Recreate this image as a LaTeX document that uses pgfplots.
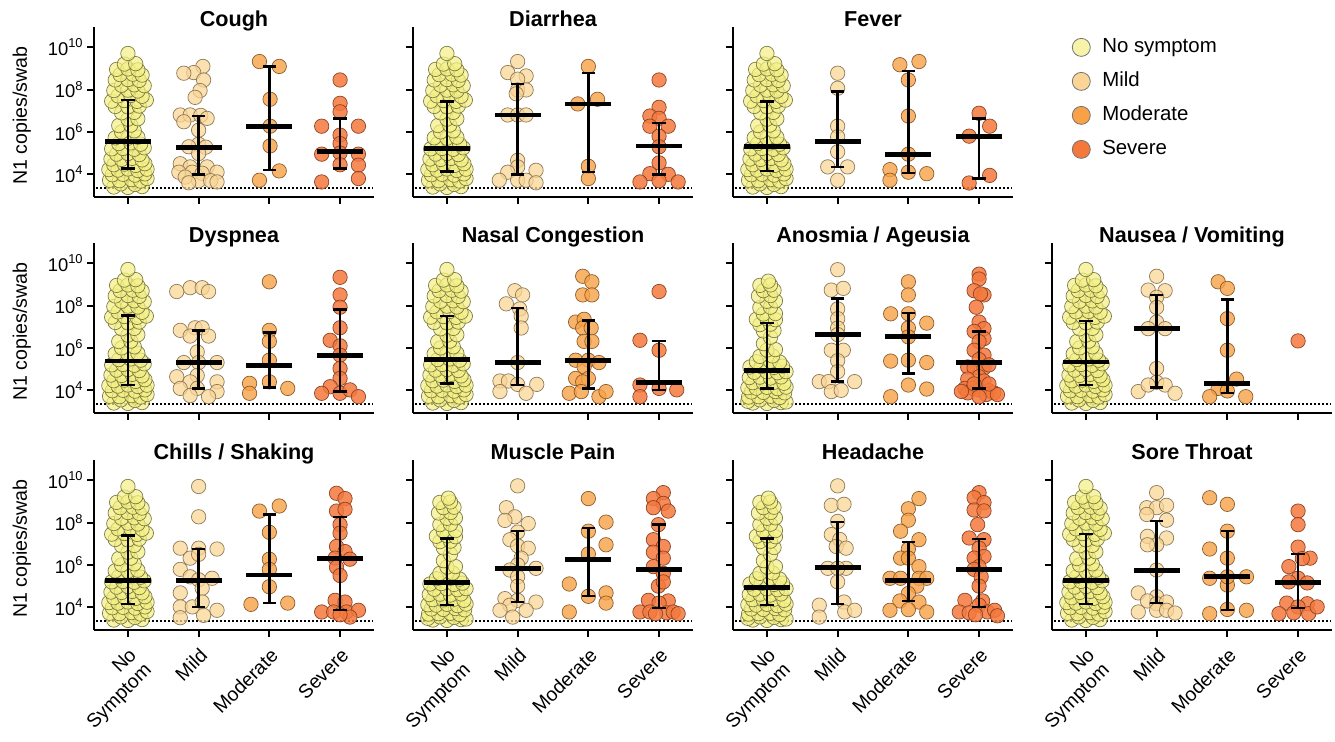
\documentclass[border=0pt]{standalone}
\usepackage{fontspec}
\setmainfont{Liberation Sans}
\usepackage{pgfplots}
\usepackage{pgfplotstable}
\pgfplotsset{compat=1.18}

\definecolor{cNo}{HTML}{F4F084}
\definecolor{cMi}{HTML}{FAD595}
\definecolor{cMo}{HTML}{F8A146}
\definecolor{cSe}{HTML}{F4783C}
\definecolor{eNo}{HTML}{7E7C44}
\definecolor{eMi}{HTML}{8E7A58}
\definecolor{eMo}{HTML}{8C5C2C}
\definecolor{eSe}{HTML}{8C4424}

\newcommand\titlefont{\fontsize{10.8}{12}\selectfont\bfseries}

% No symptom groups (log10 copies/swab), offset from category centre
\pgfplotstableread[row sep=\\]{o l\\
-0.20 3.40\\ 0.00 3.38\\ 0.20 3.42\\ -0.10 3.55\\ 0.10 3.52\\
-0.26 3.72\\ -0.12 3.70\\ 0.05 3.75\\ 0.18 3.68\\ 0.27 3.80\\
-0.22 3.98\\ -0.07 4.00\\ 0.10 3.96\\ 0.24 4.02\\
-0.27 4.22\\ -0.14 4.20\\ 0.00 4.25\\ 0.14 4.18\\ 0.27 4.24\\
-0.20 4.45\\ -0.05 4.48\\ 0.11 4.42\\ 0.24 4.50\\
-0.24 4.72\\ -0.09 4.70\\ 0.06 4.75\\ 0.20 4.68\\
-0.16 4.95\\ 0.00 4.98\\ 0.16 4.93\\
-0.23 5.20\\ -0.07 5.22\\ 0.09 5.18\\ 0.23 5.25\\
-0.13 5.45\\ 0.04 5.48\\ 0.18 5.42\\
-0.18 5.72\\ 0.00 5.70\\ 0.14 5.75\\
-0.09 6.00\\ 0.09 6.05\\
-0.13 6.30\\ 0.04 6.32\\
0.00 6.60\\ 0.14 6.62\\
-0.09 6.90\\ 0.09 6.92\\
-0.18 7.20\\ 0.00 7.18\\ 0.16 7.22\\
-0.23 7.45\\ -0.05 7.48\\ 0.13 7.44\\ 0.26 7.50\\
-0.14 7.70\\ 0.04 7.72\\ 0.20 7.68\\
-0.20 7.95\\ 0.00 7.97\\ 0.14 7.93\\
-0.09 8.20\\ 0.09 8.22\\ 0.23 8.18\\
-0.18 8.45\\ 0.00 8.47\\ 0.16 8.43\\
-0.11 8.70\\ 0.07 8.72\\ 0.20 8.68\\
-0.16 8.95\\ 0.00 8.97\\ 0.14 8.93\\
-0.05 9.20\\ 0.11 9.22\\
0.00 9.70\\
}\nsA

\pgfplotstableread[row sep=\\]{o l\\
-0.20 3.40\\ 0.00 3.38\\ 0.20 3.42\\ -0.10 3.55\\ 0.10 3.52\\ 0.27 3.45\\ -0.27 3.48\\
-0.26 3.68\\ -0.12 3.70\\ 0.05 3.72\\ 0.18 3.66\\
-0.22 3.92\\ -0.05 3.90\\ 0.12 3.94\\ 0.25 3.88\\
-0.27 4.12\\ -0.15 4.10\\ 0.00 4.14\\ 0.15 4.08\\ 0.27 4.15\\
-0.20 4.36\\ -0.05 4.35\\ 0.10 4.38\\ 0.24 4.33\\
-0.25 4.60\\ -0.10 4.62\\ 0.05 4.58\\ 0.20 4.63\\
-0.18 4.85\\ 0.00 4.87\\ 0.15 4.83\\ 0.27 4.88\\
-0.24 5.10\\ -0.08 5.12\\ 0.10 5.08\\ 0.22 5.14\\
-0.15 5.35\\ 0.05 5.37\\ 0.18 5.33\\
-0.10 5.60\\ 0.08 5.62\\
0.00 5.90\\ 0.12 5.92\\
-0.05 6.20\\
0.05 6.50\\
-0.05 6.80\\ 0.10 6.82\\
-0.10 7.10\\ 0.05 7.12\\
-0.15 7.35\\ 0.00 7.37\\ 0.12 7.33\\
-0.05 7.60\\ 0.12 7.62\\
-0.10 7.90\\ 0.05 7.92\\
0.00 8.20\\ 0.12 8.22\\
-0.12 8.45\\ 0.05 8.47\\
-0.05 8.70\\ 0.10 8.72\\
-0.10 8.95\\ 0.05 8.97\\
0.02 9.15\\
}\nsB

\pgfplotsset{
  panel/.style={width=140pt, height=85pt, scale only axis, set layers,
    xmin=-0.48, xmax=3.48, ymin=2.93, ymax=10.95,
    axis lines*=left, axis line style={line width=1pt},
    tick align=outside, major tick length=3.5pt,
    tick style={line width=1pt, black},
    xtick={0,1,2,3}, ytick={4,6,8,10},
    xticklabels={}, yticklabels={}, clip=false,
    every axis title shift=0pt,
    title style={at={(0.5,1)}, anchor=base, yshift=0pt, font=\titlefont}},
  ylab/.style={yticklabels={10\textsuperscript{4},10\textsuperscript{6},10\textsuperscript{8},10\textsuperscript{10}},
    yticklabel style={font=\fontsize{9.2}{10}\selectfont, inner xsep=1.5pt},
    ylabel={N1 copies/swab},
    ylabel style={at={(axis description cs:-0.258,0.48)}, anchor=center, font=\fontsize{9.8}{11}\selectfont}},
  xlab/.style={xticklabels={No\\Symptom, Mild, Moderate, Severe},
    xticklabel style={rotate=45, anchor=north east, align=right, font=\fontsize{9.7}{10.5}\selectfont}},
  ns/.style={only marks, mark=*, mark size=3.6pt, draw=eNo, fill=cNo, fill opacity=0.7, line width=0.35pt},
  mi/.style={only marks, mark=*, mark size=3.6pt, draw=eMi, fill=cMi, fill opacity=0.75, line width=0.35pt},
  mo/.style={only marks, mark=*, mark size=3.6pt, draw=eMo, fill=cMo, fill opacity=0.8, line width=0.35pt},
  se/.style={only marks, mark=*, mark size=3.6pt, draw=eSe, fill=cSe, fill opacity=0.85, line width=0.35pt},
}

\newcommand\lod{\addplot[black, line width=0.9pt, dash pattern=on 0.9pt off 1.1pt] coordinates {(-0.45,3.34) (3.47,3.34)};}
\newcommand\grp[3]{\addplot[#1] table[row sep=\\, x expr=\thisrow{o}+#2, y=l]{o l\\#3};}
% group, median, lower, upper
\newcommand\stats[4]{%
  \addplot[on layer=axis foreground, black, line width=1.2pt, mark=-, mark size=3.4pt, mark options={line width=1.2pt}] coordinates {(#1,#3) (#1,#4)};
  \addplot[on layer=axis foreground, black, only marks, mark=-, mark size=11.5pt, mark options={line width=2.4pt}] coordinates {(#1,#2)};}

\begin{document}
\begin{tikzpicture}
\path (0,0) rectangle (667.5pt,367.5pt);

% ---------- row 1 ----------
\begin{axis}[panel, ylab, at={(47pt,269pt)}, anchor=south west, title={Cough}]
\lod
\addplot[ns] table[x=o,y=l]{\nsA};
\grp{mi}{1}{0.06 9.09\\ -0.07 8.80\\ -0.21 8.77\\ 0.07 8.45\\ 0.02 7.95\\ -0.05 7.63\\ -0.26 6.80\\ -0.12 6.80\\ 0.03 6.78\\ 0.12 6.64\\ -0.21 6.48\\ 0.00 6.08\\ 0.00 5.42\\ -0.14 5.30\\ 0.10 5.28\\ 0.00 4.98\\ -0.26 4.50\\ -0.12 4.35\\ 0.12 4.35\\ 0.26 4.10\\ -0.28 4.10\\ -0.09 4.10\\ 0.05 4.05\\ -0.19 3.87\\ 0.00 3.70\\ 0.17 3.70\\ 0.26 3.64\\ -0.14 3.60\\}
\grp{mo}{2}{-0.14 9.32\\ 0.14 9.09\\ 0.01 7.54\\ 0.01 6.27\\ 0.01 5.34\\ 0.14 4.16\\ -0.14 3.72\\}
\grp{se}{3}{0 8.45\\ 0 7.35\\ 0 6.95\\ -0.26 6.27\\ 0.26 6.27\\ 0 5.85\\ 0 5.45\\ -0.26 4.95\\ 0.26 4.95\\ 0 5.00\\ 0 4.45\\ 0.26 4.43\\ -0.26 3.64\\ 0.26 3.80\\}
\stats{0}{5.53}{4.27}{7.50}
\stats{1}{5.25}{4.00}{6.76}
\stats{2}{6.27}{4.19}{9.09}
\stats{3}{5.06}{4.27}{6.64}
\end{axis}

\begin{axis}[panel, at={(206.5pt,269pt)}, anchor=south west, title={Diarrhea}]
\lod
\addplot[ns] table[x=o,y=l]{\nsA};
\grp{mi}{1}{0 9.32\\ -0.14 8.80\\ 0.12 8.64\\ 0 8.49\\ 0 7.98\\ 0.12 7.98\\ -0.02 7.80\\ -0.14 6.80\\ 0 6.80\\ 0.12 6.80\\ 0 4.66\\ 0 4.35\\ -0.14 4.10\\ 0.26 4.19\\ -0.26 3.72\\ 0 3.72\\ 0.12 3.72\\ 0.26 3.60\\}
\grp{mo}{2}{0 9.09\\ -0.15 7.32\\ 0.13 7.54\\ 0 4.38\\ 0 3.80\\}
\grp{se}{3}{0 8.45\\ 0 7.16\\ -0.13 6.75\\ 0 6.64\\ 0.13 6.27\\ -0.13 6.27\\ 0 5.80\\ 0 5.30\\ 0 4.54\\ -0.13 4.03\\ 0.13 4.00\\ -0.27 3.64\\ 0 3.70\\ 0.27 3.64\\}
\stats{0}{5.22}{4.14}{7.43}
\stats{1}{6.80}{4.00}{8.25}
\stats{2}{7.32}{4.10}{8.77}
\stats{3}{5.34}{4.00}{6.43}
\end{axis}

\begin{axis}[panel, at={(366.5pt,269pt)}, anchor=south west, title={Fever}]
\lod
\addplot[ns] table[x=o,y=l]{\nsA};
\grp{mi}{1}{0 8.77\\ 0 8.06\\ 0 6.27\\ 0 5.77\\ 0 5.06\\ -0.14 4.35\\ 0.14 4.35\\ 0 3.72\\}
\grp{mo}{2}{-0.12 9.17\\ 0.15 9.32\\ 0 8.45\\ 0 6.75\\ 0 4.95\\ -0.26 4.22\\ 0 4.10\\ 0.26 4.03\\ -0.26 3.72\\}
\grp{se}{3}{0 6.88\\ 0.15 6.27\\ -0.14 5.80\\ 0.15 3.95\\ -0.14 3.59\\}
\stats{0}{5.30}{4.16}{7.43}
\stats{1}{5.53}{4.35}{7.90}
\stats{2}{4.95}{4.06}{8.88}
\stats{3}{5.80}{3.80}{6.64}
\end{axis}

% legend
\begin{axis}[at={(526pt,269pt)}, anchor=south west, width=140pt, height=85pt, scale only axis,
  hide axis, xmin=0, xmax=1, ymin=0, ymax=1,
  legend cell align=left,
  legend style={at={(0.071,0.953)}, anchor=north west, draw=none, fill=none, inner sep=0pt,
    row sep=5pt, column sep=5pt, font=\fontsize{10.2}{12}\selectfont,
    nodes={inner sep=1pt, text height=7.5pt, text depth=2.5pt}}]
\addlegendimage{only marks, mark=*, mark size=4.5pt, mark options={fill=cNo!70!white, draw=black!55}}
\addlegendentry{No symptom}
\addlegendimage{only marks, mark=*, mark size=4.5pt, mark options={fill=cMi, draw=black!55}}
\addlegendentry{Mild}
\addlegendimage{only marks, mark=*, mark size=4.5pt, mark options={fill=cMo, draw=black!55}}
\addlegendentry{Moderate}
\addlegendimage{only marks, mark=*, mark size=4.5pt, mark options={fill=cSe, draw=black!55}}
\addlegendentry{Severe}
\end{axis}

% ---------- row 2 ----------
\begin{axis}[panel, ylab, at={(47pt,161pt)}, anchor=south west, title={Dyspnea}]
\lod
\addplot[ns] table[x=o,y=l]{\nsA};
\grp{mi}{1}{-0.31 8.66\\ -0.12 8.84\\ 0.05 8.84\\ 0.14 8.66\\ -0.05 6.95\\ 0.05 6.95\\ -0.26 6.83\\ -0.12 6.56\\ 0.14 6.56\\ -0.02 5.81\\ -0.21 5.31\\ 0 5.31\\ 0.26 5.31\\ -0.31 4.64\\ -0.02 4.70\\ -0.12 4.40\\ 0.26 4.40\\ -0.26 4.09\\ -0.02 4.09\\ 0.26 3.94\\ 0.14 3.70\\ -0.12 3.75\\}
\grp{mo}{2}{0 9.12\\ 0 6.83\\ 0 6.31\\ 0 5.42\\ -0.28 4.33\\ 0 4.40\\ -0.28 3.86\\ 0.26 4.09\\}
\grp{se}{3}{0 9.33\\ 0 8.50\\ 0 7.92\\ 0 6.95\\ -0.14 6.36\\ 0 6.10\\ 0 5.66\\ 0 5.03\\ 0 4.56\\ -0.14 4.17\\ -0.26 3.86\\ 0 3.86\\ 0.14 4.02\\ 0.26 3.70\\}
\stats{0}{5.38}{4.25}{7.53}
\stats{1}{5.31}{4.09}{6.83}
\stats{2}{5.16}{4.14}{6.72}
\stats{3}{5.66}{3.94}{7.81}
\end{axis}

\begin{axis}[panel, at={(206.5pt,161pt)}, anchor=south west, title={Nasal Congestion}]
\lod
\addplot[ns] table[x=o,y=l]{\nsA};
\grp{mi}{1}{-0.04 8.70\\ 0.07 8.50\\ -0.16 8.08\\ 0.03 7.84\\ 0.05 7.50\\ 0.05 6.94\\ 0 5.31\\ -0.25 4.44\\ -0.13 4.44\\ 0 4.28\\ 0.27 4.28\\ -0.25 3.94\\ 0.12 3.86\\}
\grp{mo}{2}{-0.08 9.38\\ 0.05 9.12\\ -0.08 8.50\\ 0.05 8.50\\ -0.18 7.22\\ -0.06 7.35\\ -0.08 6.94\\ 0.04 6.94\\ -0.06 6.31\\ 0.05 6.31\\ -0.18 5.42\\ 0 5.42\\ 0.15 5.31\\ -0.06 5.11\\ -0.18 4.56\\ 0 4.56\\ -0.08 4.40\\ -0.27 3.86\\ -0.10 3.94\\ 0.15 3.70\\ 0.25 3.94\\}
\grp{se}{3}{0 8.66\\ -0.27 6.36\\ 0 5.89\\ -0.27 4.25\\ 0 4.09\\ 0.25 4.02\\ -0.27 3.70\\}
\stats{0}{5.47}{4.33}{7.50}
\stats{1}{5.31}{4.25}{7.89}
\stats{2}{5.42}{4.09}{7.30}
\stats{3}{4.38}{4.02}{6.33}
\end{axis}

\begin{axis}[panel, at={(366.5pt,161pt)}, anchor=south west, title={Anosmia / Ageusia}]
\lod
\addplot[ns] table[x=o,y=l]{\nsB};
\grp{mi}{1}{0 9.69\\ -0.09 8.73\\ 0.08 8.81\\ 0 7.84\\ 0 7.38\\ 0 6.94\\ 0 6.63\\ -0.09 5.89\\ 0.08 5.89\\ 0 5.40\\ 0 4.88\\ -0.26 4.41\\ -0.13 4.41\\ 0.24 4.41\\ -0.09 3.94\\ 0.05 4.00\\}
\grp{mo}{2}{0 9.12\\ 0 8.50\\ -0.25 7.61\\ 0 7.61\\ 0.26 7.17\\ 0 6.94\\ 0 6.52\\ -0.25 5.38\\ 0 5.42\\ 0.26 5.31\\ 0 4.25\\ -0.25 3.70\\ 0.26 4.06\\}
\grp{se}{3}{0 9.48\\ 0 9.25\\ -0.07 8.70\\ 0.07 8.50\\ 0.02 8.55\\ -0.04 7.92\\ 0 7.22\\ 0.07 6.91\\ -0.07 6.78\\ 0.07 6.44\\ 0 6.30\\ -0.07 5.89\\ 0.07 5.66\\ 0 5.45\\ -0.16 5.10\\ -0.07 5.06\\ 0.07 5.06\\ 0.14 5.20\\ 0 4.64\\ -0.16 4.53\\ 0.07 4.44\\ -0.20 4.09\\ -0.09 4.09\\ 0 4.02\\ 0.14 3.98\\ 0.21 3.88\\ -0.16 3.88\\ 0.10 3.80\\ 0.26 3.80\\ -0.25 3.95\\ 0 3.70\\ -0.07 4.30\\ 0.14 4.30\\}
\stats{0}{4.95}{4.09}{7.17}
\stats{1}{6.63}{4.41}{8.34}
\stats{2}{6.52}{4.80}{7.64}
\stats{3}{5.31}{4.09}{6.78}
\end{axis}

\begin{axis}[panel, at={(526pt,161pt)}, anchor=south west, title={Nausea / Vomiting}]
\lod
\addplot[ns] table[x=o,y=l]{\nsA};
\grp{mi}{1}{0 9.38\\ -0.12 8.73\\ 0.12 8.70\\ 0 8.39\\ 0 7.91\\ 0 7.22\\ -0.12 6.91\\ 0.12 6.91\\ 0 5.03\\ 0 4.38\\ -0.26 3.94\\ -0.12 4.25\\ 0.12 4.25\\ 0.26 3.86\\}
\grp{mo}{2}{-0.13 9.12\\ 0 8.81\\ 0 7.38\\ 0 5.89\\ 0.13 4.53\\ -0.13 4.09\\ 0 3.97\\ -0.25 3.70\\ 0.26 3.70\\}
\grp{se}{3}{0 6.33\\}
\stats{0}{5.34}{4.25}{7.27}
\stats{1}{6.91}{4.13}{8.50}
\stats{2}{4.33}{3.86}{8.28}
\end{axis}

% ---------- row 3 ----------
\begin{axis}[panel, ylab, xlab, at={(47pt,52.5pt)}, anchor=south west, title={Chills / Shaking}]
\lod
\addplot[ns] table[x=o,y=l]{\nsA};
\grp{mi}{1}{0 9.70\\ 0 8.27\\ -0.26 6.79\\ 0 6.79\\ 0.26 6.75\\ -0.12 6.32\\ 0 6.50\\ -0.26 5.79\\ -0.12 5.44\\ 0 5.30\\ 0.19 5.37\\ -0.26 4.68\\ 0.05 4.90\\ -0.26 4.02\\ -0.09 4.02\\ 0.05 4.25\\ 0.26 3.86\\ 0.07 3.62\\ -0.26 3.51\\}
\grp{mo}{2}{-0.14 8.54\\ 0.14 8.78\\ 0 7.54\\ 0 6.27\\ 0 5.79\\ 0 4.97\\ -0.26 4.14\\ 0.26 4.20\\}
\grp{se}{3}{-0.05 9.38\\ 0.07 9.13\\ -0.05 8.54\\ 0.07 8.62\\ 0 7.90\\ 0 7.50\\ -0.05 6.87\\ 0.07 6.63\\ -0.07 6.32\\ 0.14 6.27\\ -0.05 5.89\\ 0 5.50\\ -0.07 4.33\\ 0.07 4.25\\ -0.26 3.78\\ -0.09 3.78\\ 0.09 3.78\\ 0.26 3.86\\ 0.14 3.54\\ 0 3.65\\}
\stats{0}{5.25}{4.17}{7.38}
\stats{1}{5.25}{4.02}{6.75}
\stats{2}{5.52}{4.20}{8.38}
\stats{3}{6.32}{3.86}{8.27}
\end{axis}

\begin{axis}[panel, xlab, at={(206.5pt,52.5pt)}, anchor=south west, title={Muscle Pain}]
\lod
\addplot[ns] table[x=o,y=l]{\nsB};
\grp{mi}{1}{0 9.73\\ -0.16 8.70\\ -0.04 8.27\\ -0.18 8.10\\ 0.15 7.95\\ 0 7.55\\ -0.11 7.19\\ 0 6.90\\ 0.15 6.79\\ 0.05 6.32\\ 0 6.00\\ -0.11 5.76\\ 0.26 5.84\\ 0 5.44\\ 0 5.00\\ -0.18 4.41\\ 0 4.33\\ 0.26 4.25\\ -0.11 4.10\\ 0.12 3.86\\ -0.07 3.54\\ -0.25 3.86\\}
\grp{mo}{2}{0 9.13\\ 0.25 8.02\\ 0 7.59\\ 0.25 6.95\\ 0 6.52\\ -0.27 5.10\\ 0 4.52\\ 0.25 4.68\\ 0.25 4.20\\ -0.27 3.78\\}
\grp{se}{3}{0.06 9.41\\ -0.08 9.13\\ 0.06 8.90\\ -0.08 8.70\\ 0.13 8.54\\ -0.01 7.90\\ -0.08 7.19\\ 0.06 6.87\\ -0.08 6.60\\ 0.06 6.32\\ -0.08 5.92\\ 0.06 5.60\\ -0.01 5.00\\ 0.06 5.20\\ -0.15 4.33\\ 0.13 4.30\\ 0 4.20\\ -0.27 3.78\\ -0.13 3.78\\ 0.11 3.74\\ 0.20 3.78\\ 0.27 3.70\\ -0.05 3.70\\}
\stats{0}{5.16}{4.10}{7.24}
\stats{1}{5.84}{4.25}{7.59}
\stats{2}{6.24}{4.52}{7.75}
\stats{3}{5.79}{3.98}{7.90}
\end{axis}

\begin{axis}[panel, xlab, at={(366.5pt,52.5pt)}, anchor=south west, title={Headache}]
\lod
\addplot[ns] table[x=o,y=l]{\nsB};
\grp{mi}{1}{0 9.73\\ -0.09 8.81\\ 0.09 8.86\\ 0 8.05\\ -0.09 7.43\\ 0.03 7.20\\ -0.02 6.87\\ 0.12 6.79\\ -0.14 5.84\\ 0.12 5.84\\ 0 5.84\\ 0 5.20\\ -0.26 4.10\\ 0.09 4.25\\ -0.26 3.54\\ 0.10 3.78\\ 0.24 3.86\\}
\grp{mo}{2}{0.15 9.13\\ 0 8.65\\ 0 8.11\\ -0.11 7.59\\ 0.15 7.19\\ 0 6.75\\ -0.11 6.32\\ 0 6.32\\ 0.15 5.92\\ -0.26 5.37\\ -0.11 5.37\\ 0.15 5.37\\ 0.26 5.37\\ 0.12 5.00\\ 0 4.65\\ -0.12 4.30\\ 0.15 4.25\\ -0.26 3.86\\ 0 3.89\\ 0.26 3.78\\}
\grp{se}{3}{0 9.41\\ -0.07 9.17\\ 0.07 8.94\\ -0.07 8.59\\ 0.07 8.55\\ -0.02 7.90\\ -0.14 7.27\\ 0.07 7.19\\ 0 6.79\\ 0.07 6.40\\ -0.07 6.32\\ 0 5.92\\ -0.07 5.79\\ 0.03 5.44\\ 0 5.00\\ -0.20 4.33\\ 0.05 4.30\\ 0 4.10\\ -0.28 3.78\\ -0.14 3.74\\ 0.12 3.78\\ 0.22 3.86\\ 0.26 3.60\\ -0.05 3.65\\}
\stats{0}{4.94}{4.10}{7.24}
\stats{1}{5.87}{4.17}{8.02}
\stats{2}{5.25}{4.30}{7.08}
\stats{3}{5.79}{4.02}{7.22}
\end{axis}

\begin{axis}[panel, xlab, at={(526pt,52.5pt)}, anchor=south west, title={Sore Throat}]
\lod
\addplot[ns] table[x=o,y=l]{\nsA};
\grp{mi}{1}{0 9.41\\ -0.14 8.70\\ 0 8.70\\ 0.14 8.81\\ -0.14 8.38\\ 0.14 8.11\\ -0.13 7.35\\ 0.14 7.27\\ 0 6.95\\ -0.13 6.95\\ 0 5.76\\ -0.26 4.68\\ 0 4.50\\ -0.13 4.30\\ 0 4.17\\ 0.14 4.25\\ -0.26 3.78\\ 0 3.86\\ 0.14 3.86\\ 0.26 3.73\\}
\grp{mo}{2}{-0.25 9.17\\ 0 8.86\\ 0 7.59\\ -0.25 6.75\\ 0 6.32\\ -0.25 5.37\\ 0 5.05\\ 0.27 5.44\\ 0 5.44\\ -0.25 3.70\\ 0.27 3.86\\ 0 3.90\\}
\grp{se}{3}{0 8.54\\ 0 7.90\\ 0 6.84\\ 0.17 6.32\\ -0.13 5.92\\ 0.06 6.30\\ 0 5.37\\ -0.13 5.20\\ 0.13 5.15\\ -0.16 4.20\\ 0.13 4.17\\ 0 4.02\\ -0.27 3.70\\ -0.06 3.74\\ 0.15 3.70\\ 0.27 4.02\\}
\stats{0}{5.25}{4.17}{7.46}
\stats{1}{5.73}{4.20}{8.06}
\stats{2}{5.44}{3.86}{7.59}
\stats{3}{5.16}{3.98}{6.52}
\end{axis}
\end{tikzpicture}
\end{document}
